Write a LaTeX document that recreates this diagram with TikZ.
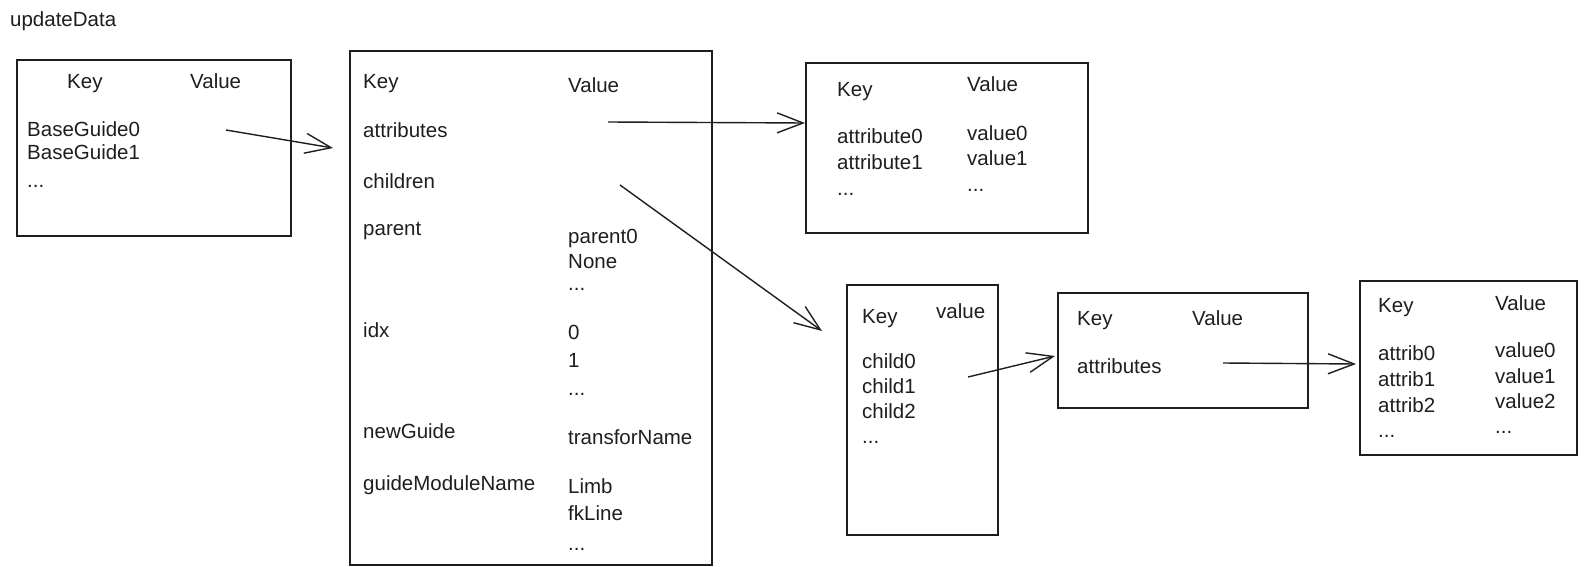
\documentclass[tikz,border=0pt]{standalone}
\usepackage{fontspec}
\setmainfont{Liberation Sans}
\usetikzlibrary{arrows.meta}
\definecolor{ink}{HTML}{1E1E1E}
\tikzset{
  box/.style={draw=ink, line width=1.4pt, inner sep=0pt, outer sep=0pt, anchor=north west},
  txt/.style={anchor=base west, inner sep=0pt, text=ink, font=\fontsize{20.5}{24}\selectfont},
  link/.style={draw=ink, line width=1.4pt, -{Straight Barb[length=26pt,width=20pt,line width=1.4pt]}}
}
\begin{document}
\begin{tikzpicture}[x=1pt,y=-1pt]
\useasboundingbox (0,0) rectangle (1588,567);

% title
\node[txt] (title) at (10,27) {updateData};

% containers
\node[box, minimum width=274pt, minimum height=176pt] (b1) at (17,60) {};
\node[box, minimum width=362pt, minimum height=514pt] (b2) at (350,51) {};
\node[box, minimum width=282pt, minimum height=170pt] (b3) at (806,63) {};
\node[box, minimum width=151pt, minimum height=250pt] (b4) at (847,285) {};
\node[box, minimum width=250pt, minimum height=115pt] (b5) at (1058,293) {};
\node[box, minimum width=217pt, minimum height=174pt] (b6) at (1360,281) {};

% updateData map
\node[txt] (b1k) at (67,89) {Key};
\node[txt] (b1v) at (190,89) {Value};
\node[txt] (b1r1) at (27,137) {BaseGuide0};
\node[txt] (b1r2) at (27,160) {BaseGuide1};
\node[txt] (b1r3) at (27,187) {...};

% guide entry
\node[txt] (b2k) at (363,89) {Key};
\node[txt] (b2v) at (568,93) {Value};
\node[txt] (b2attr) at (363,138) {attributes};
\node[txt] (b2chld) at (363,188) {children};
\node[txt] (b2par) at (363,235) {parent};
\node[txt] (b2pv1) at (568,243) {parent0};
\node[txt] (b2pv2) at (568,268) {None};
\node[txt] (b2pv3) at (568,290) {...};
\node[txt] (b2idx) at (363,337) {idx};
\node[txt] (b2iv1) at (568,339) {0};
\node[txt] (b2iv2) at (568,367) {1};
\node[txt] (b2iv3) at (568,395) {...};
\node[txt] (b2ng) at (363,438) {newGuide};
\node[txt] (b2ngv) at (568,444) {transforName};
\node[txt] (b2gm) at (363,490) {guideModuleName};
\node[txt] (b2gv1) at (568,493) {Limb};
\node[txt] (b2gv2) at (568,520) {fkLine};
\node[txt] (b2gv3) at (568,550) {...};

% attributes map
\node[txt] (b3k) at (837,97) {Key};
\node[txt] (b3v) at (967,92) {Value};
\node[txt] (b3r1) at (837,144) {attribute0};
\node[txt] (b3r2) at (837,169) {attribute1};
\node[txt] (b3r3) at (837,195) {...};
\node[txt] (b3v1) at (967,141) {value0};
\node[txt] (b3v2) at (967,166) {value1};
\node[txt] (b3v3) at (967,192) {...};

% children list
\node[txt] (b4k) at (862,323) {Key};
\node[txt] (b4v) at (936,318) {value};
\node[txt] (b4r1) at (862,368) {child0};
\node[txt] (b4r2) at (862,393) {child1};
\node[txt] (b4r3) at (862,418) {child2};
\node[txt] (b4r4) at (862,443) {...};

% child entry
\node[txt] (b5k) at (1077,325) {Key};
\node[txt] (b5v) at (1192,325) {Value};
\node[txt] (b5attr) at (1077,373) {attributes};

% child attributes map
\node[txt] (b6k) at (1378,312) {Key};
\node[txt] (b6v) at (1495,310) {Value};
\node[txt] (b6r1) at (1378,360) {attrib0};
\node[txt] (b6r2) at (1378,386) {attrib1};
\node[txt] (b6r3) at (1378,412) {attrib2};
\node[txt] (b6r4) at (1378,437) {...};
\node[txt] (b6v1) at (1495,357) {value0};
\node[txt] (b6v2) at (1495,383) {value1};
\node[txt] (b6v3) at (1495,408) {value2};
\node[txt] (b6v4) at (1495,433) {...};

% connector ends
\coordinate (s1) at (226,130);
\coordinate (e1) at (333,148);
\coordinate (s2) at (608,122);
\coordinate (e2) at (805,123);
\coordinate (s3) at (620,185);
\coordinate (e3) at (822,331);
\coordinate (s4) at (968,377);
\coordinate (e4) at (1055,356);
\coordinate (s5) at (1223,363);
\coordinate (e5) at (1356,364);

\draw[link] (s1) -- (e1);
\draw[link] (s2) -- (e2);
\draw[link] (s3) -- (e3);
\draw[link] (s4) -- (e4);
\draw[link] (s5) -- (e5);
\end{tikzpicture}
\end{document}
